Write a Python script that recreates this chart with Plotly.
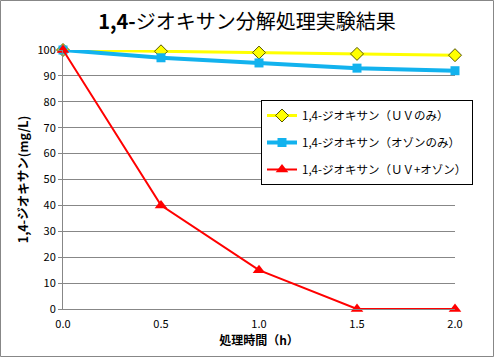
import plotly.graph_objects as go

hours = [0.0, 0.5, 1.0, 1.5, 2.0]
uv_only = [100, 99.5, 99, 98.5, 98]
ozone_only = [100, 97, 95, 93, 92]
uv_ozone = [100, 40, 15, 0, 0]
names = ["1,4-ジオキサン（ＵＶのみ）", "1,4-ジオキサン（オゾンのみ）", "1,4-ジオキサン（ＵＶ+オゾン）"]
y_ticks = list(range(0, 101, 10))

FONT = "Noto Sans CJK JP"
W, H = 494, 357
L, R, T, B = 63, 39, 50, 48
pw, ph = W - L - R, H - T - B

fig = go.Figure()
fig.add_trace(go.Scatter(x=hours, y=uv_only, name=names[0], mode="lines+markers",
                         line=dict(color="#FFFF00", width=3),
                         marker=dict(symbol="diamond", size=10, color="#FFFF00",
                                     line=dict(color="#555500", width=1)),
                         cliponaxis=False, legendgroup="a"))
fig.add_trace(go.Scatter(x=hours, y=ozone_only, name=names[1], mode="lines+markers",
                         line=dict(color="#12B2EE", width=4),
                         marker=dict(symbol="square", size=9, color="#12B2EE"),
                         cliponaxis=False, legendgroup="b"))
fig.add_trace(go.Scatter(x=hours, y=uv_ozone, name=names[2], mode="lines+markers",
                         line=dict(color="#FF0000", width=2),
                         marker=dict(symbol="triangle-up", size=11, color="#FF0000"),
                         cliponaxis=False, legendgroup="c"))

fig.update_layout(
    width=W, height=H,
    margin=dict(l=L, r=R, t=T, b=B),
    paper_bgcolor="white", plot_bgcolor="white",
    font=dict(family=FONT, size=11, color="#000000"),
    title=dict(text="<b>1,4-</b>ジオキサン分解処理実験結果", x=0.5, xref="container",
               xanchor="center", y=1 - 22 / H, yanchor="middle",
               font=dict(family=FONT, size=20, color="#000000")),
    showlegend=True,
    legend=dict(x=(261 - L) / pw, y=(H - B - 100) / ph, xanchor="left", yanchor="top",
                bordercolor="#000000", borderwidth=1, bgcolor="white",
                font=dict(family=FONT, size=11.5), tracegroupgap=8,
                traceorder="grouped"),
    xaxis=dict(range=[0, 2.0], tickvals=hours, tickformat=".1f", showgrid=False,
               showline=True, linecolor="#878787", linewidth=1, zeroline=False,
               ticks="", ticklen=0, automargin=False, ticklabelstandoff=5,
               title=dict(text="<b>処理時間（h）</b>", font=dict(family=FONT, size=12), standoff=6),
               tickfont=dict(size=11)),
    yaxis=dict(range=[0, 100], tickvals=y_ticks, showgrid=True, gridcolor="#878787",
               gridwidth=1, showline=True, linecolor="#878787", linewidth=1, zeroline=False,
               ticks="outside", ticklen=4, tickcolor="#878787", automargin=False,
               title=dict(text="<b>1,4-ジオキサン(mg/L)</b>", font=dict(family=FONT, size=12.5), standoff=6),
               tickfont=dict(size=11)),
    shapes=[dict(type="rect", xref="paper", yref="paper",
                 x0=(0.5 - L) / pw, x1=(W - 0.5 - L) / pw,
                 y0=-(B - 0.5) / ph, y1=1 + (T - 0.5) / ph,
                 line=dict(color="#878787", width=1), layer="below")],
)

fig.write_html("out.html", config={"displayModeBar": False})

with open("out.html", "r", encoding="utf-8") as f:
    html = f.read()
html = html.replace("<body>", "<body style=\"margin:0;padding:0;overflow:hidden\">", 1)
with open("out.html", "w", encoding="utf-8") as f:
    f.write(html)
